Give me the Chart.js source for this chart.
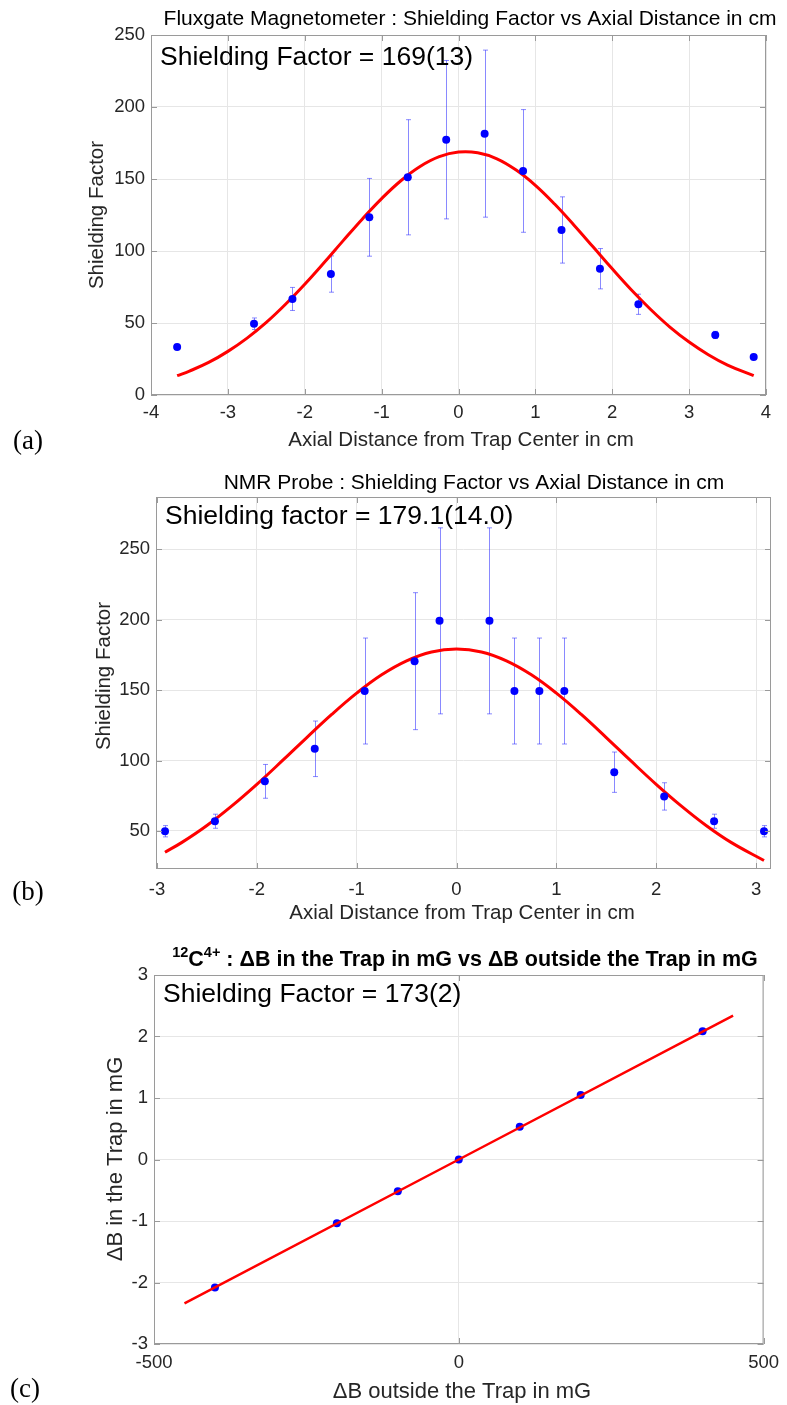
<!DOCTYPE html>
<html>
<head>
<meta charset="utf-8">
<script src="https://cdn.jsdelivr.net/npm/chart.js@4.4.1/dist/chart.umd.min.js"></script>
<style>
  html, body { margin: 0; padding: 0; background: #fff; }
  #page { position: relative; width: 787px; height: 1405px; overflow: hidden; }
  canvas { position: absolute; left: 0; }
</style>
</head>
<body>
<div id="page">
  <canvas id="chart-a" width="787" height="460" style="top:0px"></canvas>
  <canvas id="chart-b" width="787" height="470" style="top:460px"></canvas>
  <canvas id="chart-c" width="787" height="475" style="top:930px"></canvas>
</div>
<script>
// (a) fluxgate magnetometer
const fgX = [-3.66, -2.66, -2.16, -1.66, -1.16, -0.66, -0.16, 0.34, 0.84, 1.34, 1.84, 2.34, 3.34, 3.84];
const fgY = [33.4, 49.5, 66.7, 84.0, 123.4, 151.2, 177.3, 181.5, 155.6, 114.6, 87.7, 63.0, 41.7, 26.4];
const fgErr = [0.8, 4, 8, 12.6, 27, 40, 55, 58, 42.6, 23, 14, 7, 2.5, 1];
const fgFitX = [-3.66, -3.5, -3.25, -3.0, -2.75, -2.5, -2.25, -2.0, -1.75, -1.5, -1.25, -1.0, -0.75, -0.5, -0.25, 0.0,
                0.25, 0.5, 0.75, 1.0, 1.25, 1.5, 1.75, 2.0, 2.25, 2.5, 2.75, 3.0, 3.25, 3.5, 3.84];
const fgFitY = [13.4, 16.6, 22.6, 30.3, 39.5, 50.4, 63.0, 76.9, 91.8, 107.2, 122.3, 136.4, 148.8, 158.7, 165.5, 168.7,
                168.2, 164.0, 156.2, 145.6, 132.6, 118.1, 102.9, 87.6, 72.9, 59.4, 47.2, 36.8, 28.0, 20.8, 13.4];
const fgXTicks = [-4, -3, -2, -1, 0, 1, 2, 3, 4];
const fgYTicks = [0, 50, 100, 150, 200, 250];

// (b) NMR probe
const nmrX = [-2.92, -2.42, -1.92, -1.42, -0.92, -0.42, -0.17, 0.33, 0.58, 0.83, 1.08, 1.58, 2.08, 2.58, 3.08];
const nmrY = [49.8, 56.9, 85.2, 108.3, 149.3, 170.5, 199.1, 199.1, 149.3, 149.3, 149.3, 91.7, 74.5, 56.9, 49.8];
const nmrErr = [4, 5, 12, 19.7, 37.6, 48.6, 66, 66, 37.6, 37.6, 37.6, 14.3, 9.7, 5, 4];
const nmrFitX = [-2.92, -2.75, -2.5, -2.25, -2.0, -1.75, -1.5, -1.25, -1.0, -0.75, -0.5, -0.25, 0,
                 0.25, 0.5, 0.75, 1.0, 1.25, 1.5, 1.75, 2.0, 2.25, 2.5, 2.75, 3.08];
const nmrFitY = [34.9, 41.9, 53.9, 67.8, 83.1, 99.5, 116.3, 132.7, 147.8, 160.8, 170.7, 177.0, 179.1,
                 177.0, 170.7, 160.8, 147.8, 132.7, 116.3, 99.5, 83.1, 67.8, 53.9, 41.9, 29.0];
const nmrXTicks = [-3, -2, -1, 0, 1, 2, 3];
const nmrYTicks = [50, 100, 150, 200, 250];

// (c) 12C4+ : dB inside vs dB outside
const dbOut = [-400, -200, -100, 0, 100, 200, 400];
const dbIn = [-2.08, -1.035, -0.515, 0, 0.532, 1.048, 2.086];
const dbFitX = [-450, 450];
const dbFitY = [-2.34, 2.34];
const dbXTicks = [-500, 0, 500];
const dbYTicks = [-3, -2, -1, 0, 1, 2, 3];

const SANS = "'Liberation Sans', Arial, Helvetica, sans-serif";
const SERIF = "'Liberation Serif', 'DejaVu Serif', serif";
const AXIS_GREY = '#9a9a9a';
const TEXT_GREY = '#262626';

function drawText(ctx, str, x, y, size, opts = {}) {
    ctx.save();
    ctx.font = (opts.bold ? 'bold ' : '') + size + 'px ' + (opts.family || SANS);
    ctx.fillStyle = opts.color || '#000';
    ctx.textAlign = opts.align || 'center';
    ctx.textBaseline = 'middle';
    ctx.translate(x, y);
    if (opts.rotate) ctx.rotate(opts.rotate);
    ctx.fillText(str, 0, 0);
    ctx.restore();
}

function buildPanel(id, p) {
    const canvas = document.getElementById(id);
    const H = canvas.height;

    const framePlugin = {
        id: 'frame_' + id,
        beforeDatasetsDraw(chart) {
            // error bars
            if (!p.err) return;
            const ctx = chart.ctx, xs = chart.scales.x, ys = chart.scales.y;
            ctx.save();
            ctx.strokeStyle = 'rgba(40,40,255,0.55)';
            ctx.lineWidth = 1;
            p.x.forEach((v, i) => {
                const px = Math.round(xs.getPixelForValue(v)) + 0.5;
                const top = ys.getPixelForValue(p.y[i] + p.err[i]);
                const bot = ys.getPixelForValue(p.y[i] - p.err[i]);
                ctx.beginPath();
                ctx.moveTo(px, top); ctx.lineTo(px, bot);
                ctx.moveTo(px - 2.5, top); ctx.lineTo(px + 2.5, top);
                ctx.moveTo(px - 2.5, bot); ctx.lineTo(px + 2.5, bot);
                ctx.stroke();
            });
            ctx.restore();
        },
        afterDraw(chart) {
            const ctx = chart.ctx, a = chart.chartArea;
            const xs = chart.scales.x, ys = chart.scales.y;
            ctx.save();
            ctx.strokeStyle = AXIS_GREY;
            ctx.lineWidth = 1;
            ctx.strokeRect(a.left + 0.5, a.top + 0.5, a.right - a.left - 1, a.bottom - a.top - 1);
            ctx.beginPath();
            p.xTicks.forEach(v => {
                const px = Math.round(xs.getPixelForValue(v)) + 0.5;
                ctx.moveTo(px, a.bottom); ctx.lineTo(px, a.bottom - 6);
                ctx.moveTo(px, a.top); ctx.lineTo(px, a.top + 6);
            });
            p.yTicks.forEach(v => {
                const py = Math.round(ys.getPixelForValue(v)) + 0.5;
                ctx.moveTo(a.left, py); ctx.lineTo(a.left + 6, py);
                ctx.moveTo(a.right, py); ctx.lineTo(a.right - 6, py);
            });
            ctx.stroke();
            ctx.restore();

            p.title(ctx);
            drawText(ctx, p.note, p.noteX, p.noteY, 26.5, { align: 'left' });
            drawText(ctx, p.xTitle, p.xTitleX, p.xTitleY, p.axisFont, { color: TEXT_GREY });
            drawText(ctx, p.yTitle, p.yTitleX, p.yTitleY, p.axisFont, { color: TEXT_GREY, rotate: -Math.PI / 2 });
            drawText(ctx, p.tag, p.tagX, p.tagY, 27, { family: SERIF });
        }
    };

    const tickFont = { family: SANS, size: 18.5 };

    return new Chart(canvas.getContext('2d'), {
        type: 'scatter',
        data: {
            datasets: [{
                label: 'data',
                data: p.x.map((v, i) => ({ x: v, y: p.y[i] })),
                backgroundColor: '#0000ff',
                borderWidth: 0,
                pointRadius: p.r,
                order: p.pointsOnTop ? 0 : 1
            }, {
                type: 'line',
                label: 'fit',
                data: p.fitX.map((v, i) => ({ x: v, y: p.fitY[i] })),
                borderColor: '#ff0000',
                borderWidth: p.lw,
                pointRadius: 0,
                tension: 0.4,
                fill: false,
                order: p.pointsOnTop ? 1 : 0
            }]
        },
        options: {
            responsive: false,
            animation: false,
            devicePixelRatio: 1,
            layout: { padding: { top: p.area.top, right: 787 - p.area.right, left: 0, bottom: 0 } },
            plugins: { legend: { display: false }, tooltip: { enabled: false } },
            scales: {
                x: {
                    type: 'linear',
                    min: p.xMin, max: p.xMax,
                    afterFit: s => { s.height = H - p.area.bottom; },
                    afterBuildTicks: s => { s.ticks = p.xTicks.map(v => ({ value: v })); },
                    grid: { color: '#e6e6e6', drawTicks: false },
                    border: { display: false },
                    ticks: { color: TEXT_GREY, font: tickFont, padding: p.xPad, maxRotation: 0, autoSkip: false, callback: v => String(v) }
                },
                y: {
                    type: 'linear',
                    min: p.yMin, max: p.yMax,
                    afterFit: s => { s.width = p.area.left; },
                    afterBuildTicks: s => { s.ticks = p.yTicks.map(v => ({ value: v })); },
                    grid: { color: '#e6e6e6', drawTicks: false },
                    border: { display: false },
                    ticks: { color: TEXT_GREY, font: tickFont, padding: 6, autoSkip: false, callback: v => String(v) }
                }
            }
        },
        plugins: [framePlugin]
    });
}

document.addEventListener('DOMContentLoaded', () => {
    buildPanel('chart-a', {
        x: fgX, y: fgY, err: fgErr, fitX: fgFitX, fitY: fgFitY,
        xTicks: fgXTicks, yTicks: fgYTicks,
        xMin: -4, xMax: 4, yMin: 0, yMax: 250,
        area: { left: 151, right: 766, top: 35, bottom: 395 },
        xPad: 7, r: 4, lw: 3, pointsOnTop: true, axisFont: 20.5,
        title: ctx => drawText(ctx, 'Fluxgate Magnetometer : Shielding Factor vs Axial Distance in cm', 470, 19, 21),
        note: 'Shielding Factor = 169(13)', noteX: 160, noteY: 58,
        xTitle: 'Axial Distance from Trap Center in cm', xTitleX: 461, xTitleY: 440,
        yTitle: 'Shielding Factor', yTitleX: 97, yTitleY: 215,
        tag: '(a)', tagX: 28, tagY: 442
    });

    buildPanel('chart-b', {
        x: nmrX, y: nmrY, err: nmrErr, fitX: nmrFitX, fitY: nmrFitY,
        xTicks: nmrXTicks, yTicks: nmrYTicks,
        xMin: -3.01, xMax: 3.15, yMin: 23, yMax: 287,
        area: { left: 156, right: 771, top: 37, bottom: 409 },
        xPad: 10, r: 4, lw: 3, pointsOnTop: true, axisFont: 20.5,
        title: ctx => drawText(ctx, 'NMR Probe : Shielding Factor vs Axial Distance in cm', 474, 23, 21),
        note: 'Shielding factor = 179.1(14.0)', noteX: 165, noteY: 57,
        xTitle: 'Axial Distance from Trap Center in cm', xTitleX: 462, xTitleY: 453,
        yTitle: 'Shielding Factor', yTitleX: 104, yTitleY: 216,
        tag: '(b)', tagX: 28, tagY: 433
    });

    buildPanel('chart-c', {
        x: dbOut, y: dbIn, err: null, fitX: dbFitX, fitY: dbFitY,
        xTicks: dbXTicks, yTicks: dbYTicks,
        xMin: -500, xMax: 500, yMin: -3, yMax: 3,
        area: { left: 154, right: 769, top: 45, bottom: 414 },
        xPad: 8, r: 4, lw: 2.5, pointsOnTop: false, axisFont: 22,
        title: ctx => {
            // bold title with superscripts: 12C4+
            const parts = [
                { t: '12', sup: true }, { t: 'C', sup: false }, { t: '4+', sup: true },
                { t: ' : \u0394B in the Trap in mG vs \u0394B outside the Trap in mG', sup: false }
            ];
            ctx.save();
            ctx.fillStyle = '#000';
            ctx.textBaseline = 'alphabetic';
            const fontFor = s => 'bold ' + (s ? 14.5 : 21.5) + 'px ' + SANS;
            let total = 0;
            parts.forEach(pt => { ctx.font = fontFor(pt.sup); pt.w = ctx.measureText(pt.t).width; total += pt.w; });
            let x = 465 - total / 2;
            const base = 36;
            parts.forEach(pt => {
                ctx.font = fontFor(pt.sup);
                ctx.fillText(pt.t, x, pt.sup ? base - 9 : base);
                x += pt.w;
            });
            ctx.restore();
        },
        note: 'Shielding Factor = 173(2)', noteX: 163, noteY: 65,
        xTitle: '\u0394B outside the Trap in mG', xTitleX: 462, xTitleY: 462,
        yTitle: '\u0394B in the Trap in mG', yTitleX: 116, yTitleY: 229,
        tag: '(c)', tagX: 25, tagY: 460
    });
});
</script>
</body>
</html>
